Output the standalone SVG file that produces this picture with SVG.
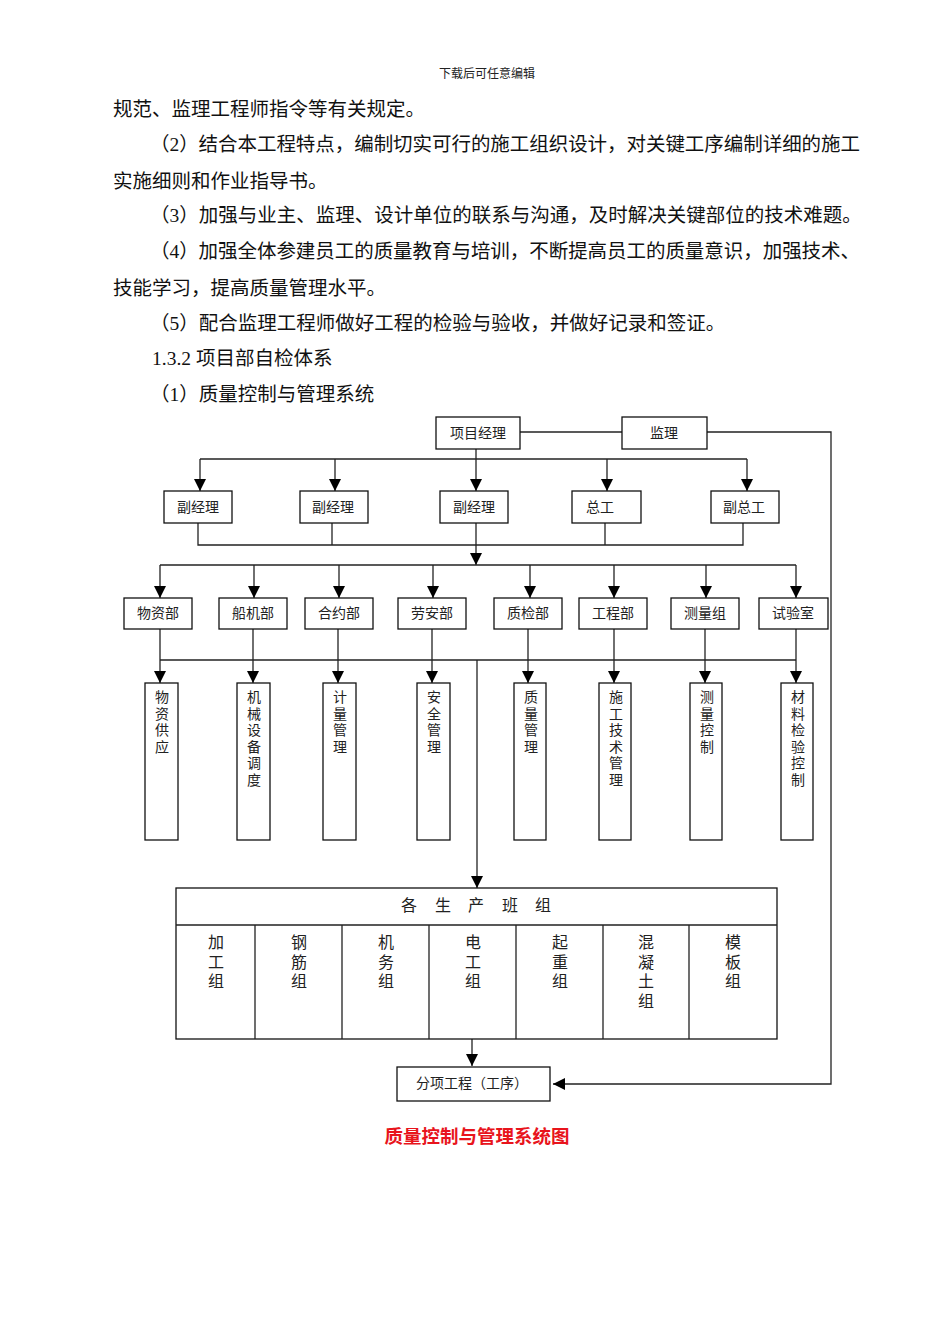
<svg xmlns="http://www.w3.org/2000/svg" width="950" height="1344" viewBox="0 0 950 1344">
<defs>
<style>
.body{font-family:"Liberation Serif","Noto Sans CJK SC",serif;font-size:19.5px;fill:#111}
.hdr{font-family:"Liberation Serif","Noto Sans CJK SC",serif;font-size:12px;fill:#222}
.box{fill:#fff;stroke:#111;stroke-width:1.3}
.lbl{font-family:"Liberation Serif","Noto Sans CJK SC",serif;font-size:14px;fill:#222;text-anchor:middle}
.vl{font-family:"Liberation Serif","Noto Sans CJK SC",serif;font-size:14px;fill:#222;text-anchor:middle}
.gl{font-family:"Liberation Serif","Noto Sans CJK SC",serif;font-size:16px;fill:#222;text-anchor:middle}
.ln{fill:none;stroke:#222;stroke-width:1.3}
.cap{font-family:"Noto Sans CJK SC",sans-serif;font-size:18.5px;font-weight:bold;fill:#e8141c;text-anchor:middle}
</style>
<marker id="ah" markerUnits="userSpaceOnUse" markerWidth="12" markerHeight="12" viewBox="0 0 12 12" refX="12" refY="6" orient="auto">
<path d="M0,0 L12,6 L0,12 Z" fill="#000"/>
</marker>
</defs>
<rect width="950" height="1344" fill="#fff"/>

<text class="hdr" x="487" y="78" text-anchor="middle">下载后可任意编辑</text>
<text class="body" x="113" y="116">规范、监理工程师指令等有关规定。</text>
<text class="body" x="150" y="151" textLength="710" lengthAdjust="spacing">（2）结合本工程特点，编制切实可行的施工组织设计，对关键工序编制详细的施工</text>
<text class="body" x="113" y="188">实施细则和作业指导书。</text>
<text class="body" x="150" y="222">（3）加强与业主、监理、设计单位的联系与沟通，及时解决关键部位的技术难题。</text>
<text class="body" x="150" y="258" textLength="710" lengthAdjust="spacing">（4）加强全体参建员工的质量教育与培训，不断提高员工的质量意识，加强技术、</text>
<text class="body" x="113" y="295">技能学习，提高质量管理水平。</text>
<text class="body" x="150" y="330">（5）配合监理工程师做好工程的检验与验收，并做好记录和签证。</text>
<text class="body" x="152" y="365">1.3.2 项目部自检体系</text>
<text class="body" x="150" y="401">（1）质量控制与管理系统</text>

<g id="connectors">
<path class="ln" d="M520,432 H622"/>
<path class="ln" d="M707,432 H831 V1084 H553" marker-end="url(#ah)"/>
<path class="ln" d="M476,449 V491" marker-end="url(#ah)"/>
<path class="ln" d="M200,459 H747"/>
<path class="ln" d="M200,459 V491" marker-end="url(#ah)"/>
<path class="ln" d="M335,459 V491" marker-end="url(#ah)"/>
<path class="ln" d="M607,459 V491" marker-end="url(#ah)"/>
<path class="ln" d="M747,459 V491" marker-end="url(#ah)"/>
<path class="ln" d="M198,523 V545 H743 V523"/>
<path class="ln" d="M332,523 V545"/>
<path class="ln" d="M605,523 V545"/>
<path class="ln" d="M476,523 V565" marker-end="url(#ah)"/>
<path class="ln" d="M160,565 H796"/>
<path class="ln" d="M160,565 V598" marker-end="url(#ah)"/>
<path class="ln" d="M254,565 V598" marker-end="url(#ah)"/>
<path class="ln" d="M339,565 V598" marker-end="url(#ah)"/>
<path class="ln" d="M433,565 V598" marker-end="url(#ah)"/>
<path class="ln" d="M530,565 V598" marker-end="url(#ah)"/>
<path class="ln" d="M614,565 V598" marker-end="url(#ah)"/>
<path class="ln" d="M706,565 V598" marker-end="url(#ah)"/>
<path class="ln" d="M796,565 V598" marker-end="url(#ah)"/>
<path class="ln" d="M160,660 H796"/>
<path class="ln" d="M160,629 V683" marker-end="url(#ah)"/>
<path class="ln" d="M253,629 V683" marker-end="url(#ah)"/>
<path class="ln" d="M338,629 V683" marker-end="url(#ah)"/>
<path class="ln" d="M432,629 V683" marker-end="url(#ah)"/>
<path class="ln" d="M528,629 V683" marker-end="url(#ah)"/>
<path class="ln" d="M614,629 V683" marker-end="url(#ah)"/>
<path class="ln" d="M705,629 V683" marker-end="url(#ah)"/>
<path class="ln" d="M796,629 V683" marker-end="url(#ah)"/>
<path class="ln" d="M477,660 V888" marker-end="url(#ah)"/>
<path class="ln" d="M472,1039 V1066" marker-end="url(#ah)"/>
</g>

<g id="n-pm"><rect class="box" x="436" y="417" width="84" height="32"/><text class="lbl" x="478" y="438">项目经理</text></g>
<g id="n-jl"><rect class="box" x="622" y="417" width="85" height="32"/><text class="lbl" x="664" y="438">监理</text></g>

<g id="n-fj1"><rect class="box" x="164" y="491" width="68" height="32"/><text class="lbl" x="198" y="512">副经理</text></g>
<g id="n-fj2"><rect class="box" x="300" y="491" width="68" height="32"/><text class="lbl" x="333" y="512">副经理</text></g>
<g id="n-fj3"><rect class="box" x="440" y="491" width="68" height="32"/><text class="lbl" x="474" y="512">副经理</text></g>
<g id="n-zg"><rect class="box" x="572" y="491" width="69" height="32"/><text class="lbl" x="600" y="512">总工</text></g>
<g id="n-fzg"><rect class="box" x="711" y="491" width="68" height="32"/><text class="lbl" x="744" y="512">副总工</text></g>

<g id="n-wz"><rect class="box" x="124" y="598" width="68" height="31"/><text class="lbl" x="158" y="618">物资部</text></g>
<g id="n-cj"><rect class="box" x="219" y="598" width="68" height="31"/><text class="lbl" x="253" y="618">船机部</text></g>
<g id="n-hy"><rect class="box" x="305" y="598" width="68" height="31"/><text class="lbl" x="339" y="618">合约部</text></g>
<g id="n-la"><rect class="box" x="398" y="598" width="68" height="31"/><text class="lbl" x="432" y="618">劳安部</text></g>
<g id="n-zj"><rect class="box" x="494" y="598" width="68" height="31"/><text class="lbl" x="528" y="618">质检部</text></g>
<g id="n-gc"><rect class="box" x="579" y="598" width="68" height="31"/><text class="lbl" x="613" y="618">工程部</text></g>
<g id="n-cl"><rect class="box" x="671" y="598" width="68" height="31"/><text class="lbl" x="705" y="618">测量组</text></g>
<g id="n-sy"><rect class="box" x="759" y="598" width="69" height="31"/><text class="lbl" x="793" y="618">试验室</text></g>

<g id="n-wzgy"><rect class="box" x="145" y="683" width="33" height="157"/><text class="vl"><tspan x="162" y="702">物</tspan><tspan x="162" y="718.5">资</tspan><tspan x="162" y="735">供</tspan><tspan x="162" y="751.5">应</tspan></text></g>
<g id="n-jxsb"><rect class="box" x="237" y="683" width="33" height="157"/><text class="vl"><tspan x="254" y="702">机</tspan><tspan x="254" y="718.5">械</tspan><tspan x="254" y="735">设</tspan><tspan x="254" y="751.5">备</tspan><tspan x="254" y="768">调</tspan><tspan x="254" y="784.5">度</tspan></text></g>
<g id="n-jlgl"><rect class="box" x="323" y="683" width="33" height="157"/><text class="vl"><tspan x="340" y="702">计</tspan><tspan x="340" y="718.5">量</tspan><tspan x="340" y="735">管</tspan><tspan x="340" y="751.5">理</tspan></text></g>
<g id="n-aqgl"><rect class="box" x="417" y="683" width="33" height="157"/><text class="vl"><tspan x="434" y="702">安</tspan><tspan x="434" y="718.5">全</tspan><tspan x="434" y="735">管</tspan><tspan x="434" y="751.5">理</tspan></text></g>
<g id="n-zlgl"><rect class="box" x="514" y="683" width="32" height="157"/><text class="vl"><tspan x="531" y="702">质</tspan><tspan x="531" y="718.5">量</tspan><tspan x="531" y="735">管</tspan><tspan x="531" y="751.5">理</tspan></text></g>
<g id="n-sgjs"><rect class="box" x="599" y="683" width="32" height="157"/><text class="vl"><tspan x="616" y="702">施</tspan><tspan x="616" y="718.5">工</tspan><tspan x="616" y="735">技</tspan><tspan x="616" y="751.5">术</tspan><tspan x="616" y="768">管</tspan><tspan x="616" y="784.5">理</tspan></text></g>
<g id="n-clkz"><rect class="box" x="690" y="683" width="32" height="157"/><text class="vl"><tspan x="707" y="702">测</tspan><tspan x="707" y="718.5">量</tspan><tspan x="707" y="735">控</tspan><tspan x="707" y="751.5">制</tspan></text></g>
<g id="n-cljy"><rect class="box" x="781" y="683" width="32" height="157"/><text class="vl"><tspan x="798" y="702">材</tspan><tspan x="798" y="718.5">料</tspan><tspan x="798" y="735">检</tspan><tspan x="798" y="751.5">验</tspan><tspan x="798" y="768">控</tspan><tspan x="798" y="784.5">制</tspan></text></g>

<g id="n-bz">
<rect class="box" x="176" y="888" width="601" height="151"/>
<path class="ln" d="M176,925 H777 M255,925 V1039 M342,925 V1039 M429,925 V1039 M516,925 V1039 M603,925 V1039 M689,925 V1039"/>
<text class="gl"><tspan x="409" y="911">各</tspan><tspan x="443" y="911">生</tspan><tspan x="476" y="911">产</tspan><tspan x="510" y="911">班</tspan><tspan x="543" y="911">组</tspan></text>
<text class="gl"><tspan x="216" y="948">加</tspan><tspan x="216" y="967.5">工</tspan><tspan x="216" y="987">组</tspan></text>
<text class="gl"><tspan x="299" y="948">钢</tspan><tspan x="299" y="967.5">筋</tspan><tspan x="299" y="987">组</tspan></text>
<text class="gl"><tspan x="386" y="948">机</tspan><tspan x="386" y="967.5">务</tspan><tspan x="386" y="987">组</tspan></text>
<text class="gl"><tspan x="473" y="948">电</tspan><tspan x="473" y="967.5">工</tspan><tspan x="473" y="987">组</tspan></text>
<text class="gl"><tspan x="560" y="948">起</tspan><tspan x="560" y="967.5">重</tspan><tspan x="560" y="987">组</tspan></text>
<text class="gl"><tspan x="646" y="948">混</tspan><tspan x="646" y="967.5">凝</tspan><tspan x="646" y="987">土</tspan><tspan x="646" y="1006.5">组</tspan></text>
<text class="gl"><tspan x="733" y="948">模</tspan><tspan x="733" y="967.5">板</tspan><tspan x="733" y="987">组</tspan></text>
</g>

<g id="n-fx"><rect class="box" x="397" y="1067" width="153" height="34"/><text class="lbl" x="472" y="1088">分项工程（工序）</text></g>

<text class="cap" x="477" y="1143">质量控制与管理系统图</text>
</svg>
